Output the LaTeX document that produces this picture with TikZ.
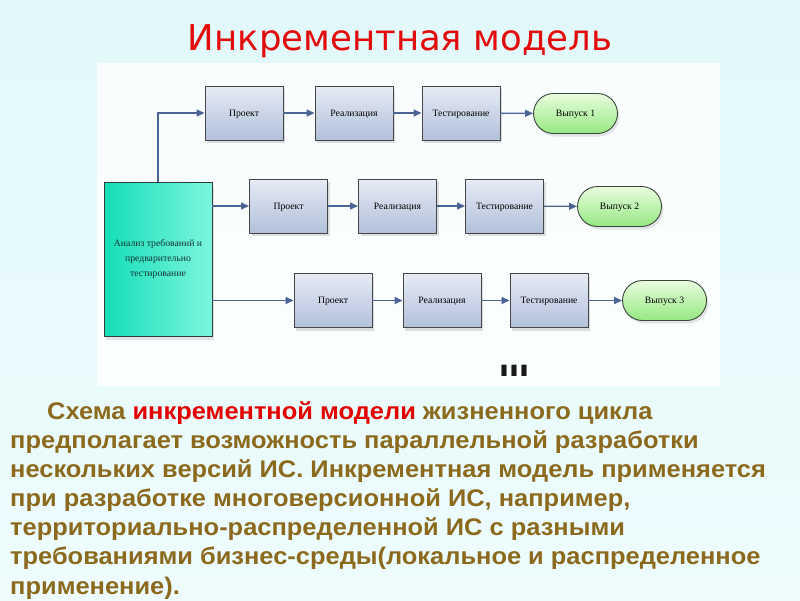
\documentclass[tikz,border=0pt]{standalone}
\usepackage{fontspec}
\setmainfont{Liberation Serif}
\newfontfamily\titlef{DejaVu Sans}
\newfontfamily\bodyf[FakeStretch=1.06]{Liberation Sans}
\newfontfamily\dotf{Liberation Sans}
\usetikzlibrary{arrows.meta,shapes.misc,shadows}
\definecolor{bgtop}{RGB}{226,248,250}
\definecolor{bgbot}{RGB}{238,252,253}
\definecolor{boxtop}{RGB}{230,235,245}
\definecolor{boxbot}{RGB}{178,192,218}
\definecolor{reltop}{RGB}{232,253,222}
\definecolor{relbot}{RGB}{150,232,130}
\definecolor{anatop}{RGB}{20,222,182}
\definecolor{anabot}{RGB}{125,246,222}
\definecolor{arrowc}{RGB}{74,100,150}
\definecolor{titlered}{RGB}{226,10,10}
\definecolor{bodyc}{RGB}{139,106,30}
\definecolor{hired}{RGB}{226,0,0}
\tikzset{
  procbox/.style={draw={rgb,255:red,70;green,70;blue,70}, line width=0.9pt,
    top color=boxtop, bottom color=boxbot, minimum width=78pt, minimum height=54pt,
    inner sep=1pt, font=\fontsize{9.7}{11}\selectfont, text height=6pt, text depth=0pt,
    drop shadow={shadow xshift=2pt, shadow yshift=-3pt, opacity=0.25}},
  relbox/.style={draw={rgb,255:red,60;green,70;blue,60}, line width=0.9pt,
    rounded rectangle, top color=reltop, bottom color=relbot,
    minimum width=86pt, minimum height=40pt, inner sep=1pt,
    font=\fontsize{9.7}{11}\selectfont, text height=6pt, text depth=0pt,
    drop shadow={shadow xshift=2pt, shadow yshift=-3pt, opacity=0.2}},
  anabox/.style={draw={rgb,255:red,50;green,60;blue,60}, line width=0.9pt,
    left color=anatop, right color=anabot, minimum width=108pt, minimum height=154pt,
    align=center, font=\fontsize{9.7}{15}\selectfont, text={rgb,255:red,20;green,50;blue,50},
    drop shadow={shadow xshift=2pt, shadow yshift=-3pt, opacity=0.2}},
  flow/.style={draw=arrowc, line width=1.3pt, -{Triangle[length=8pt,width=7pt]}},
  bodyline/.style={anchor=base west, inner sep=0pt, text=bodyc,
    font=\bodyf\bfseries\fontsize{24}{28}\selectfont}
}
\begin{document}
\begin{tikzpicture}[x=1pt,y=-1pt]
\shade[top color=bgtop, bottom color=bgbot] (0,0) rectangle (800,600);
\useasboundingbox (0,0) rectangle (800,600);
\fill[white, opacity=0.8] (97,63) rectangle (720,386);

\node[anchor=base, inner sep=0pt, text=titlered, font=\titlef\fontsize{35.5}{40}\selectfont] (title) at (400,50) {Инкрементная модель};

\node[anabox] (ana) at (158,259.5) {Анализ требований и\\предварительно\\тестирование};

\node[procbox] (p1) at (244,113) {Проект};
\node[procbox] (r1) at (354,113) {Реализация};
\node[procbox] (t1) at (461,113) {Тестирование};
\node[relbox] (v1) at (575.5,113.5) {Выпуск 1};

\node[procbox] (p2) at (288.5,206) {Проект};
\node[procbox] (r2) at (397.5,206) {Реализация};
\node[procbox] (t2) at (504.5,206) {Тестирование};
\node[relbox] (v2) at (619.5,206.5) {Выпуск 2};

\node[procbox] (p3) at (333,300.5) {Проект};
\node[procbox] (r3) at (442,300.5) {Реализация};
\node[procbox] (t3) at (549,300.5) {Тестирование};
\node[relbox] (v3) at (664.5,300.5) {Выпуск 3};

\draw[flow] (ana.north) |- (p1.west);
\draw[flow] (ana.east |- p2.west) -- (p2.west);
\draw[flow] (ana.east |- p3.west) -- (p3.west);
\foreach \i in {1,2,3}{
  \draw[flow] (p\i) -- (r\i);
  \draw[flow] (r\i) -- (t\i);
  \draw[flow] (t\i) -- (v\i);
}

\node[anchor=base west, inner sep=0pt, font=\dotf\bfseries\fontsize{40}{40}\selectfont, xscale=0.9, yscale=1.9, text={rgb,255:red,25;green,25;blue,25}] (dots) at (499,376) {...};

\node[bodyline] (l1) at (47,419) {Схема {\color{hired}инкрементной модели} жизненного цикла};
\node[bodyline] (l2) at (10,448) {предполагает возможность параллельной разработки};
\node[bodyline] (l3) at (10,477) {нескольких версий ИС. Инкрементная модель применяется};
\node[bodyline] (l4) at (10,506) {при разработке многоверсионной ИС, например,};
\node[bodyline] (l5) at (10,535) {территориально-распределенной ИС с разными};
\node[bodyline] (l6) at (10,564) {требованиями бизнес-среды(локальное и распределенное};
\node[bodyline] (l7) at (10,594) {применение).};
\end{tikzpicture}
\end{document}
